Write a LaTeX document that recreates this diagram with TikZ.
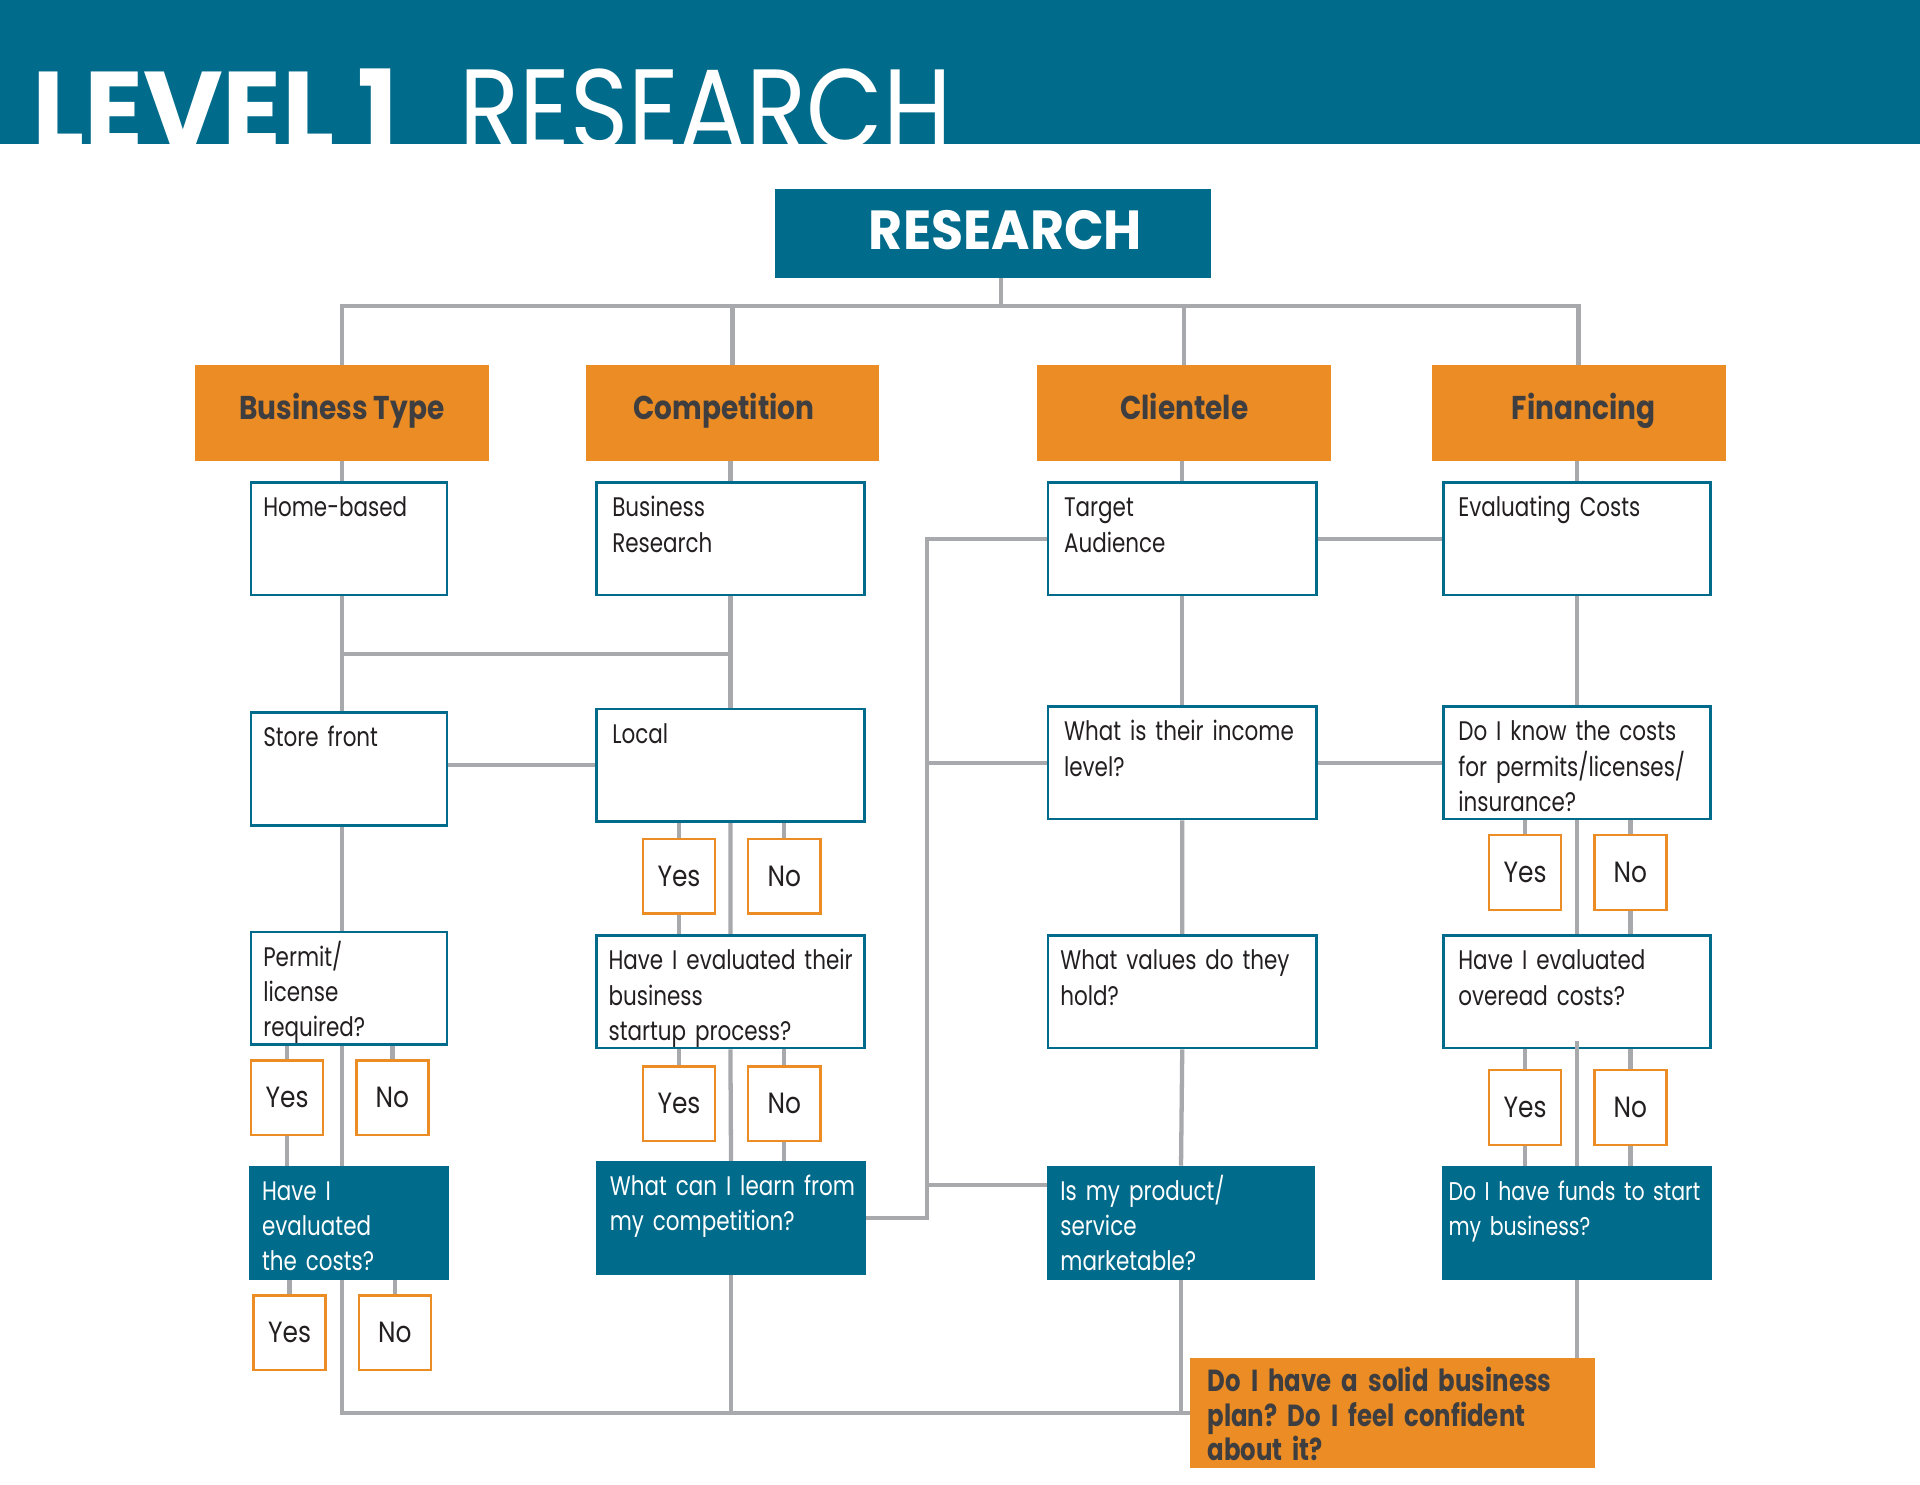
\documentclass[tikz,border=0pt]{standalone}
\usepackage{fontspec}
\setmainfont{Poppins}
\newfontfamily\narrowfamily{Poppins}[FakeStretch=0.8]
\newfontfamily\catfamily{Poppins}[FakeStretch=0.85]
\usetikzlibrary{positioning,calc,backgrounds}

\definecolor{rteal}{RGB}{0,107,138}
\definecolor{rorange}{RGB}{235,140,36}
\definecolor{rgray}{RGB}{167,169,172}
\definecolor{rdark}{RGB}{62,62,64}
\definecolor{rink}{RGB}{35,31,32}

\frenchspacing
\hyphenpenalty=10000
\exhyphenpenalty=10000

\newcommand{\boxfont}{\narrowfamily\fontsize{22}{29}\selectfont}
\newcommand{\ynfont}{\catfamily\fontsize{24}{26}\selectfont}
\newcommand{\catfont}{\catfamily\fontsize{27}{28}\selectfont\bfseries}
\newcommand{\planfont}{\narrowfamily\fontsize{25}{28.5}\selectfont\bfseries}

\tikzset{
  link/.style={draw=rgray, line width=3.5bp},
  qbox/.style={draw=rteal, line width=2bp, fill=white, text=rink, anchor=north west,
    align=left, text width=#1, inner xsep=10bp, inner ysep=0bp,
    text height=28bp, text depth=64bp, font=\boxfont},
  tbox/.style={qbox=#1, fill=rteal, text=white, text height=27bp, text depth=64bp},
  yn/.style={draw=rorange, line width=2bp, fill=white, text=rink, anchor=north west,
    minimum width=59bp, minimum height=61bp, inner sep=0bp, font=\ynfont},
  cat/.style={fill=rorange, text=rdark, anchor=north west, minimum width=240bp,
    inner sep=0bp, text height=44bp, text depth=34bp, font=\catfont},
}

\begin{document}
\begin{tikzpicture}[x=1bp, y=-1bp]
    \useasboundingbox (0,0) rectangle (1568,1212);
    \begin{scope}[on background layer]
        \fill[white] (0,0) rectangle (1568,1212);
    \end{scope}

    % Title band
    \fill[rteal] (0,0) rectangle (1568,118);
    \node[anchor=base west, inner sep=0bp, text=white] (lvl) at (26,121)
        {\resizebox{299bp}{65bp}{\bfseries LEVEL 1}};
    \node[anchor=base west, inner sep=0bp, text=white] (ttl) at (375,121)
        {\resizebox{402bp}{65bp}{RESEARCH}};

    % Top box and the four areas
    \node[fill=rteal, text=white, anchor=north west, minimum width=356bp, minimum height=73bp,
        inner sep=0bp, text depth=6bp] (research) at (633,154)
        {\hspace*{20bp}\resizebox{223bp}{32bp}{\bfseries RESEARCH}};
    \node[cat] (btype) at (159,298) {Business Type};
    \node[cat] (comp) at (478,298) {\hspace*{-14bp}Competition};
    \node[cat] (cli) at (847,298) {Clientele};
    \node[cat] (fin) at (1169,298) {\hspace*{8bp}Financing};

    % Business type
    \node[qbox=140bp] (home) at (204,393) {Home-based};
    \node[qbox=140bp] (store) at (204,581) {Store front};
    \node[qbox=140bp] (permit) at (204,760) {Permit/\\license\\required?};
    \node[tbox=142bp] (haveic) at (203,952) {Have I\\evaluated\\the costs?};

    % Competition
    \node[qbox=199bp, inner xsep=13bp, text width=193bp] (bizres) at (486,393) {Business\\Research};
    \node[qbox=199bp, inner xsep=13bp, text width=193bp] (local) at (486,578) {Local};
    \node[qbox=199bp] (havest) at (486,763) {\mbox{Have I evaluated their}\\business\\startup process?};
    \node[tbox=198bp] (learn) at (487,948) {\mbox{What can I learn from}\\my competition?};

    % Clientele
    \node[qbox=199bp, inner xsep=13bp, text width=193bp] (target) at (855,393) {Target\\Audience};
    \node[qbox=199bp, inner xsep=13bp, text width=193bp] (income) at (855,576) {What is their income\\level?};
    \node[qbox=199bp] (values) at (855,763) {What values do they\\hold?};
    \node[tbox=197bp] (market) at (855,952) {Is my product/\\service\\marketable?};

    % Financing
    \node[qbox=198bp, inner xsep=12bp, text width=194bp] (evalc) at (1178,393) {Evaluating Costs};
    \node[qbox=198bp, inner xsep=12bp, text width=194bp] (knowc) at (1178,576) {Do I know the costs\\for permits/licenses/\\insurance?};
    \node[qbox=198bp, inner xsep=12bp, text width=194bp] (haveo) at (1178,763) {Have I evaluated\\overead costs?};
    \node[tbox=198bp, inner xsep=4bp, text width=210bp, font=\narrowfamily\fontsize{21}{29}\selectfont]
        (funds) at (1178,952) {\mbox{Do I have funds to start}\\my business?};

    \node[fill=rorange, text=rdark, anchor=north west, align=left, text width=302bp,
        inner xsep=14bp, inner ysep=0bp, text height=27bp, text depth=63bp, font=\planfont]
        (plan) at (972,1109) {Do I have a solid business\\plan? Do I feel confident\\about it?};

    % Yes / No pairs
    \foreach \n/\x/\y in {a/204/865, b/206/1057, c/524/684, d/524/870, e/1215/681, f/1215/873} {
        \node[yn] (yes\n) at (\x,\y) {Yes};
        \node[yn] (no\n) at (\x+86,\y) {No};
    }

    \begin{scope}[on background layer]
        % spine
        \coordinate (bar) at (0,250);
        \draw[link] ([xshift=6bp]research.south) -- ([xshift=6bp]research.south |- bar);
        \draw[link] (btype.north) -- (btype.north |- bar) -- (fin.north |- bar) -- (fin.north);
        \draw[link] (comp.north) -- (comp.north |- bar);
        \draw[link] (cli.north) -- (cli.north |- bar);

        % business type column
        \draw[link] (btype.south) -- (btype.south |- home.north);
        \draw[link] (btype.south |- home.south) -- (btype.south |- store.north);
        \draw[link] (btype.south |- store.south) -- (btype.south |- permit.north);
        \draw[link] (btype.south |- permit.south) -- (btype.south |- haveic.north);
        \draw[link] (btype.south |- haveic.south) -- (btype.south |- plan.west) -- (plan.west);
        \coordinate (mid1) at ($(home.south)!.5!(store.north)$);
        \draw[link] (mid1 -| btype.south) -- (mid1 -| bizres.south);
        \draw[link] (local.west -| store.east) -- (local.west);

        % competition column
        \draw[link] (bizres.north |- comp.south) -- (bizres.north);
        \draw[link] (bizres.south) -- (local.north);
        \draw[link] (local.south) -- (havest.north);
        \draw[link] (havest.south) -- (learn.north);
        \draw[link] (learn.south) -- (learn.south |- plan.west);

        % clientele column
        \coordinate (lbus) at (757,0);
        \draw[link] (target.north |- cli.south) -- (target.north);
        \draw[link] (target.south) -- (income.north);
        \draw[link] (income.south) -- (values.north);
        \draw[link] (values.south) -- (market.north);
        \draw[link] (market.south) -- (market.south |- plan.west);
        \draw[link] (target.west) -- (target.west -| lbus) -- (learn.east -| lbus) -- (learn.east);
        \draw[link] (income.west) -- (income.west -| lbus);
        \coordinate (mk) at ($(market.north west)+(0,16)$);
        \draw[link] (mk) -- (mk -| lbus);
        \draw[link] (target.east) -- (evalc.west);
        \draw[link] (income.east) -- (knowc.west);

        % financing column
        \draw[link] (evalc.north |- fin.south) -- (evalc.north);
        \draw[link] (evalc.south) -- (knowc.north);
        \draw[link] (knowc.south) -- (haveo.north);
        \draw[link] (funds.south) -- (funds.south |- plan.north);

        % yes / no branches
        \foreach \n/\up in {a/permit, b/haveic, c/local, d/havest, e/knowc, f/haveo} {
            \draw[link] (yes\n.north) -- (yes\n.north |- \up.south);
            \draw[link] (no\n.north) -- (no\n.north |- \up.south);
        }
        \draw[link] (yesa.south) -- (yesa.south |- haveic.north);
        \draw[link] (yesc.south) -- (yesc.south |- havest.north);
        \draw[link] (nod.south) -- (nod.south |- learn.north);
        \draw[link] (noe.south) -- (noe.south |- haveo.north);
        \draw[link] (yesf.south) -- (yesf.south |- funds.north);
        \draw[link] (nof.south) -- (nof.south |- funds.north);
    \end{scope}
    \draw[link] ($(haveo.south)+(0,-7)$) -- (funds.north);
\end{tikzpicture}
\end{document}
